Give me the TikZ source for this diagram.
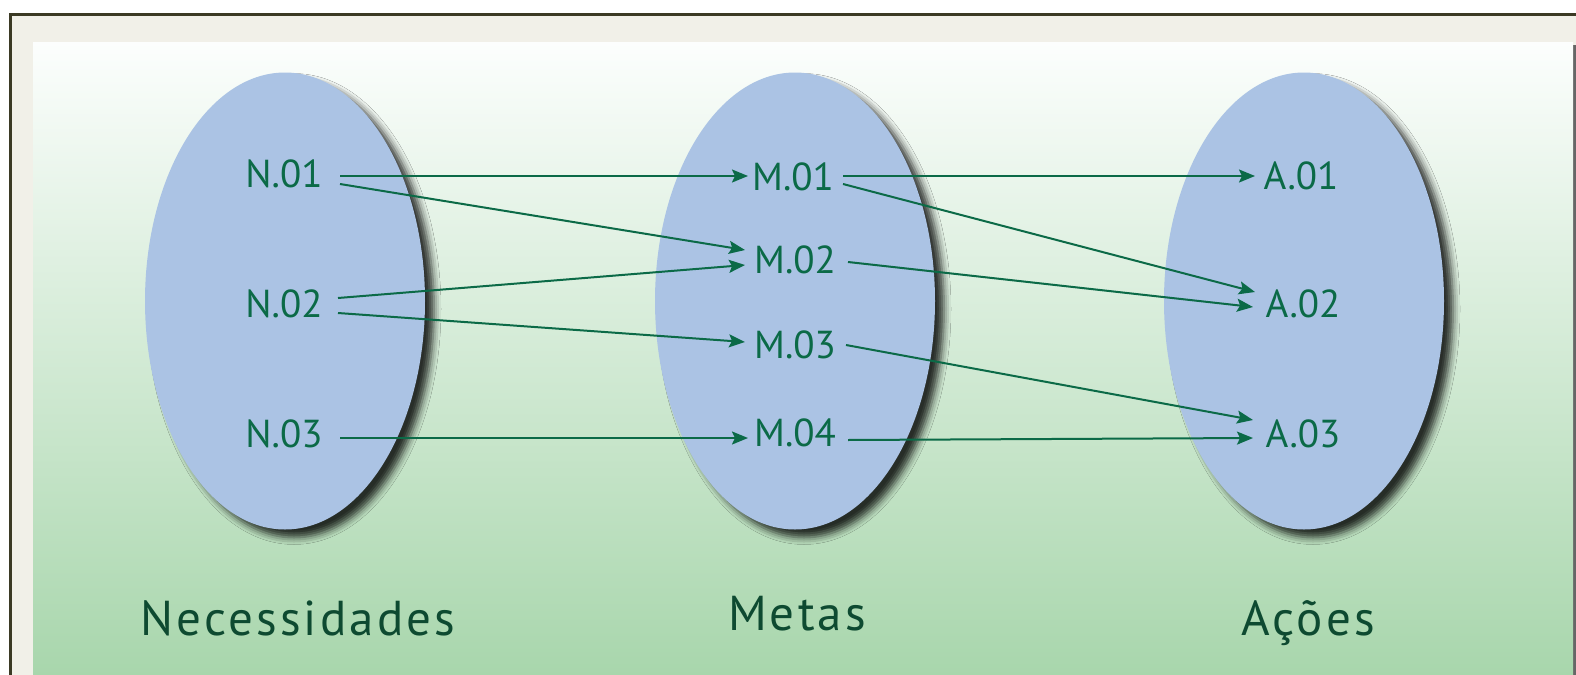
\documentclass[tikz,border=0pt]{standalone}
\usepackage{fontspec}
\setmainfont{PT Sans}
\usetikzlibrary{arrows.meta,shadows.blur,shapes.geometric}
\definecolor{cream}{HTML}{F1F0E8}
\definecolor{frame}{HTML}{3B3A24}
\definecolor{ptop}{HTML}{FCFEFD}
\definecolor{pbot}{HTML}{A8D6AC}
\definecolor{ell}{HTML}{ABC3E4}
\definecolor{lgreen}{HTML}{0B6A47}
\definecolor{dgreen}{HTML}{0E4A31}
\tikzset{
  setell/.style={ellipse, fill=ell, minimum width=140pt, minimum height=228.5pt, inner sep=0pt,
    blur shadow={shadow xshift=4.5pt, shadow yshift=-4pt, shadow blur radius=3.5pt, shadow opacity=80}},
  lab/.style={anchor=base, inner sep=0pt, text=lgreen, font=\fontsize{19.5pt}{22pt}\selectfont},
  grp/.style={anchor=base, inner sep=0pt, text=dgreen, font=\fontsize{24.5pt}{28pt}\selectfont\addfontfeature{LetterSpace=6.5}},
  arr/.style={draw=lgreen, line width=1pt, -{Stealth[length=8pt,width=6.5pt,inset=1.5pt]}}
}
\begin{document}
\begin{tikzpicture}[x=0.5pt,y=-0.5pt]
\useasboundingbox (0,0) rectangle (1576,675);
% frame
\fill[cream] (10,14) rectangle (1576,675);
\fill[frame] (9,13) rectangle (1576,16);
\fill[frame] (9,13) rectangle (11.5,675);
% panel
\fill[black!60] (1573,45) rectangle (1576,675);
\shade[top color=ptop, bottom color=pbot] (33,42) rectangle (1573,675);
% ellipses
\node[setell] (eN) at (285,301) {};
\node[setell] (eM) at (795,301) {};
\node[setell] (eA) at (1304,301) {};
% labels
\node[lab] (n1) at (284,187) {N.01};
\node[lab] (n2) at (284,317) {N.02};
\node[lab] (n3) at (284,447) {N.03};
\node[lab] (m1) at (793,190) {M.01};
\node[lab] (m2) at (795,273) {M.02};
\node[lab] (m3) at (795,358) {M.03};
\node[lab] (m4) at (795,446) {M.04};
\node[lab] (a1) at (1301,189) {A.01};
\node[lab] (a2) at (1303,317) {A.02};
\node[lab] (a3) at (1303,447) {A.03};
% group titles
\node[grp] (gN) at (298,635) {Necessidades};
\node[grp] (gM) at (797,630) {Metas};
\node[grp] (gA) at (1308,635) {Ações};
% arrows N -> M
\draw[arr] ([shift={(56,-11)}]n1.base) -- ([shift={(-45,-14)}]m1.base);
\draw[arr] ([shift={(56,-3)}]n1.base) -- ([shift={(-50,-23)}]m2.base);
\draw[arr] ([shift={(54,-19)}]n2.base) -- ([shift={(-50,-8)}]m2.base);
\draw[arr] ([shift={(54,-4)}]n2.base) -- ([shift={(-50,-16)}]m3.base);
\draw[arr] ([shift={(56,-9)}]n3.base) -- ([shift={(-47,-8)}]m4.base);
% arrows M -> A
\draw[arr] ([shift={(50,-14)}]m1.base) -- ([shift={(-46,-13)}]a1.base);
\draw[arr] ([shift={(50,-6)}]m1.base) -- ([shift={(-48,-25)}]a2.base);
\draw[arr] ([shift={(53,-11)}]m2.base) -- ([shift={(-50,-10)}]a2.base);
\draw[arr] ([shift={(51,-13)}]m3.base) -- ([shift={(-50,-27)}]a3.base);
\draw[arr] ([shift={(53,-6)}]m4.base) -- ([shift={(-50,-9)}]a3.base);
\end{tikzpicture}
\end{document}
